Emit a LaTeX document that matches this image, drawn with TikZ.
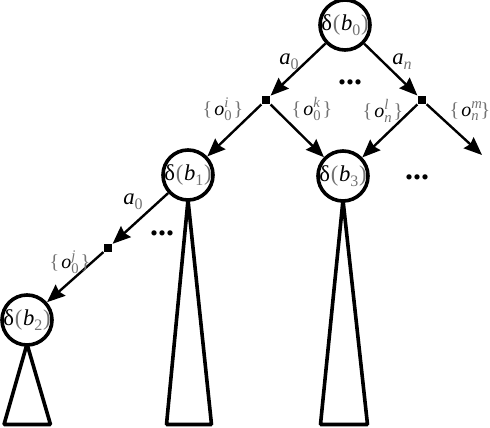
\documentclass[tikz,border=0pt]{standalone}
\usepackage{fontspec}
\setmainfont{Liberation Serif}
\usetikzlibrary{arrows.meta}
\definecolor{thin}{gray}{0.45}
% \lo{size}{raise}{content}
\newcommand\lo[3]{\raisebox{#2}{\fontsize{#1}{#1}\selectfont #3}}
\newcommand\dlab[1]{\makebox[0pt]{δ\kern0.5pt{\color{thin}(}\kern0.5pt\textit{b}\lo{12}{-3.5pt}{\color{thin}#1}\kern0.5pt{\color{thin})}}}
\newcommand\olab[2]{{\color{thin}\{}\kern1.5pt\textit{o}\rlap{\lo{11}{6pt}{\color{thin}\textit{#2}}}\lo{11}{-3.5pt}{\color{thin}#1}\kern1.5pt{\color{thin}\}}}
\newcommand\alab[1]{\textit{a}\lo{12}{-3.5pt}{\color{thin}#1}}
\begin{document}
\begin{tikzpicture}[x=0.75pt,y=-0.75pt,
  state/.style={circle,draw,line width=2.7pt,minimum size=37.5pt,inner sep=0pt,fill=white,font=\fontsize{17}{17}\selectfont},
  act/.style={rectangle,fill,minimum size=6.5pt,inner sep=0pt},
  edge/.style={line width=1.8pt,-{Stealth[length=13.5pt,width=11pt,inset=1.5pt]}},
  tri/.style={line width=2.7pt,line join=bevel},
  lab/.style={font=\fontsize{17}{17}\selectfont},
  olab/.style={font=\fontsize{15}{15}\selectfont},
  dots/.style={font=\fontsize{24}{24}\selectfont\bfseries}]
\useasboundingbox (0,0) rectangle (490,428);
% triangle corners
\coordinate (t1a) at (188,200);
\coordinate (t1l) at (166.5,424.5);
\coordinate (t1r) at (211.5,424.5);
\coordinate (t2a) at (27,344);
\coordinate (t2l) at (4,424.5);
\coordinate (t2r) at (50.5,424.5);
\coordinate (t3a) at (343,200);
\coordinate (t3l) at (320.5,424.5);
\coordinate (t3r) at (367.5,424.5);
\draw[tri] (t1a) -- (t1l) -- (t1r) -- cycle;
\draw[tri] (t2a) -- (t2l) -- (t2r) -- cycle;
\draw[tri] (t3a) -- (t3l) -- (t3r) -- cycle;
% states
\node[state] (b0) at (345,25) {\dlab{0}};
\node[state] (b1) at (188,175) {\dlab{1}};
\node[state] (b3) at (343,176) {\dlab{3}};
\node[state] (b2) at (27,320) {\dlab{2}};
% action points
\node[act] (s1) at (266,100) {};
\node[act] (s2) at (422,100) {};
\node[act] (s3) at (108,248) {};
\coordinate (e1) at (482,155);
% edges
\draw[edge] (b0) -- (s1);
\draw[edge] (b0) -- (s2);
\draw[edge] (s1) -- (b1);
\draw[edge] (s1) -- (b3);
\draw[edge] (s2) -- (b3);
\draw[edge] (s2) -- (e1);
\draw[edge] (b1) -- (s3);
\draw[edge] (s3) -- (b2);
% labels
\node[lab] (la0) at (289,62) {\alab{0}};
\node[lab] (lan) at (402,62) {\alab{\textit{n}}};
\node[lab] (lb0) at (133,202) {\alab{0}};
\node[olab] (o0i) at (223,109) {\olab{0}{i}};
\node[olab] (o0k) at (312,109) {\olab{0}{k}};
\node[olab] (onl) at (383,111) {\olab{\textit{n}}{l}};
\node[olab] (onm) at (470,111) {\olab{\textit{n}}{m}};
\node[olab] (o0j) at (70,262) {\olab{0}{j}};
% dots
\node[dots] (d1) at (350,82) {...};
\node[dots] (d2) at (417,177) {...};
\node[dots] (d3) at (162,233) {...};
\end{tikzpicture}
\end{document}
